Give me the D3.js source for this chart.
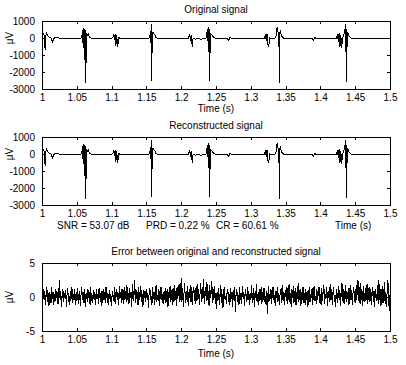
<!DOCTYPE html>
<html>
<head>
<meta charset="utf-8">
<script src="https://cdn.jsdelivr.net/npm/d3@7"></script>
<style>
  body { margin: 0; background: #fff; }
  text { font-family: Arial, "Liberation Sans", Helvetica, sans-serif; font-size: 10px; fill: #000; }
</style>
</head>
<body>
<div id="chart"></div>
<script>
// tick labels
var timeTicks = [1, 1.05, 1.1, 1.15, 1.2, 1.25, 1.3, 1.35, 1.4, 1.45, 1.5];
var signalTicks = [-3000, -2000, -1000, 0, 1000];
var errorTicks = [-5, 0, 5];

// signal: [time (s), value (uV)]
var originalSignal = [
  [1.0000, 100], [1.0024, 250], [1.0034, 60], [1.0042, -550], [1.0048, -600], [1.0057, 150],
  [1.0067, 280], [1.0091, 80], [1.0125, 20], [1.0153, -230], [1.0177, 20], [1.0211, 40],
  [1.0259, -20], [1.0350, -40], [1.0400, -20], [1.0450, -40], [1.0500, -30], [1.0546, -40],
  // beat 1
  [1.0570, 20], [1.0580, 300], [1.0584, 450], [1.0589, -300], [1.0594, 550], [1.0598, -600],
  [1.0603, 600], [1.0608, -700], [1.0613, 550], [1.0617, -1000], [1.0623, -2650], [1.0627, 450],
  [1.0632, -800], [1.0637, 300], [1.0642, -1450], [1.0646, 200], [1.0651, 150], [1.0666, 250],
  [1.0680, 50], [1.0714, -20], [1.0800, -30], [1.0850, -10], [1.0900, -40], [1.0960, -20],
  [1.1015, 0], [1.1030, 200], [1.1040, -100], [1.1052, 250], [1.1062, -450], [1.1074, 150],
  [1.1088, -550], [1.1102, 20], [1.1130, -30], [1.1200, -10], [1.1250, -40], [1.1320, -20],
  [1.1400, -30], [1.1480, -20],
  // beat 2
  [1.1542, 0], [1.1552, 150], [1.1561, 400], [1.1566, -300], [1.1571, 800], [1.1576, -2500],
  [1.1580, 450], [1.1585, -600], [1.1590, -900], [1.1595, 350], [1.1604, 250], [1.1619, 200],
  [1.1638, 30], [1.1672, -30], [1.1750, -20], [1.1800, -50], [1.1840, -10], [1.1900, -40],
  [1.2000, -30], [1.2050, -20],
  [1.2107, 0], [1.2122, 250], [1.2134, -150], [1.2146, 150], [1.2158, -500], [1.2172, 0],
  [1.2203, -80], [1.2232, -20], [1.2265, -30], [1.2285, -120], [1.2305, -20],
  // beat 3
  [1.2356, 0], [1.2366, 200], [1.2375, 500], [1.2380, -200], [1.2385, 550], [1.2390, -600],
  [1.2395, 650], [1.2399, -800], [1.2404, 500], [1.2409, -2550], [1.2414, 300], [1.2418, -900],
  [1.2423, 250], [1.2433, 200], [1.2447, 150], [1.2466, 20], [1.2500, -30], [1.2560, -20],
  [1.2620, -40], [1.2660, -20], [1.2680, -150], [1.2700, 20], [1.2730, -30], [1.2800, -20],
  [1.2900, -30], [1.3000, -20], [1.3100, -40], [1.3160, -20],
  [1.3199, 0], [1.3210, 250], [1.3222, -200], [1.3234, 250], [1.3246, -400], [1.3258, -550],
  [1.3270, 30], [1.3285, -30], [1.3320, -20],
  // beat 4
  [1.3353, 0], [1.3367, 200], [1.3376, 550], [1.3386, 650], [1.3396, 50], [1.3405, -400],
  [1.3410, -2650], [1.3415, 250], [1.3424, 400], [1.3434, 250], [1.3448, 100], [1.3467, 0],
  [1.3506, -30], [1.3600, -20], [1.3700, -40], [1.3800, -20], [1.3880, -30], [1.3900, -120],
  [1.3920, 10], [1.3950, -20], [1.4050, -30], [1.4150, -20],
  [1.4234, 0], [1.4245, 250], [1.4257, -250], [1.4269, 300], [1.4281, -500], [1.4293, 200],
  [1.4305, -600], [1.4318, 0],
  // beat 5
  [1.4334, 100], [1.4344, 350], [1.4353, 500], [1.4358, -300], [1.4363, 800], [1.4368, -800],
  [1.4373, 500], [1.4377, -2600], [1.4382, 300], [1.4387, -500], [1.4392, 350], [1.4401, 200],
  [1.4416, 100], [1.4435, 0], [1.4473, -30], [1.4600, -20], [1.4700, -40], [1.4800, -30],
  [1.4900, -20], [1.5000, -30]
];
// reconstruction differs by a few uV only, invisible at this scale
var reconstructedSignal = originalSignal.slice();

// error, one sample per ms from t = 1 s
var errorStart = 1;
var errorStep = 0.001;
var errorValue = [
  0.5, -0.8, 1.2, -0.4, 0.9, -1.1, 0.3, 1.4, -0.7, 0.6, -1.3, 0.8, 0.2, -0.9, 1.5, -0.3, 0.7, -1.2, 0.4, -0.6, 1.1, -0.2, 0.8, -1.0, 0.5,
  2.5, -0.5, 0.9, -1.4, 0.3, 1.2, -0.8, 0.6, -0.2, 1.0, -1.5, 0.4, 1.3, -0.7, 0.2, -1.1, 0.9, -0.3, 1.4, -0.9, 0.5, -0.4, 1.1, -1.2, 0.7,
  -0.6, 1.3, -1.0, 0.4, 0.9, -1.3, 0.2, 1.5, -0.5, 0.8, -0.9, 1.1, -1.4, 0.3, 0.6, -0.8, 1.2, -0.2, 0.7, -1.1, 1.4, -0.6, 0.3, -0.9, 1.0,
  -0.4, 0.8, -1.2, 1.1, -0.3, 0.5, -1.0, 1.3, 0.2, -0.7, 0.9, -1.3, 0.4, 1.2, -0.5, 0.7, -0.9, 1.5, -0.2, 0.6, -1.1, 0.3, 1.0, -0.8, 0.4,
  -1.3, 0.9, 0.3, -0.6, 1.4, -1.0, 0.5, 1.1, -0.4, 0.8, -1.2, 1.6, -0.3, 0.7, -0.9, 1.2, 0.1, -1.1, 1.5, -0.5, 0.9, -0.7, 1.8, -0.4, 0.6,
  -1.0, 1.3, -0.2, 0.8, -1.4, 1.9, -0.6, 0.4, 2.5, -0.9, 1.1, -0.3, 0.7, -1.2, 1.4, -0.5, 0.2, 1.6, -0.8, 0.5, -1.5, 1.0, -0.2, 0.9, -0.7,
  1.2, -0.4, 0.6, -1.6, 0.9, 1.3, -0.5, 0.2, -1.1, 1.4, -0.3, 0.8, -1.2, 1.0, 1.7, -0.7, 0.3, -0.6, 1.2, -1.3, 0.6, 1.5, -0.4, 0.4, -1.0,
  0.8, -0.5, 1.3, -0.9, 0.4, 1.1, -1.4, 0.7, -0.2, 1.6, -0.8, 0.3, 1.2, -1.1, 0.5, 1.8, -0.6, 0.9, -1.3, 1.4, -0.3, 0.6, 1.9, -0.7, 0.2,
  2.8, -0.7, 1.3, -1.5, 0.6, 2.1, -0.9, 0.9, -0.4, 1.6, -1.3, 0.5, 1.2, -0.8, 1.7, -0.2, -1.1, 1.0, 1.5, -0.6, 1.3, -1.0, 0.7, 1.9, -0.5,
  1.1, -1.2, 0.4, 2.0, -0.8, 1.4, -0.3, 2.6, -1.0, 0.7, 1.5, -0.6, 2.2, -0.4, 0.9, -1.3, 1.8, -0.2, 0.6, 2.3, -0.9, 1.2, -0.5, 1.6, -1.1,
  0.6, -1.8, 0.8, -0.5, 1.3, -1.2, 0.4, 1.7, -0.9, 0.5, -1.6, 1.0, 1.4, -0.4, 0.2, -1.0, 0.8, 1.2, -0.7, 0.4, -1.1, 1.3, -0.3, 0.7, -1.4,
  1.0, -0.6, 1.5, -2.2, 0.9, 1.1, -0.7, 0.3, -1.2, 1.4, -0.4, 0.6, -1.0, 1.6, -0.3, 0.8, -1.3, 1.2, 0.2, -0.8, 1.4, -0.5, 0.9, -1.1, 0.6,
  -0.5, 1.7, -0.9, 0.4, 1.3, -1.4, 0.6, -0.2, 1.9, -0.8, 0.5, -1.1, 1.2, -0.6, 0.3, 1.5, -1.0, 0.8, -0.4, 1.3, -0.7, 0.2, -1.2, 0.9, -2.5,
  1.6, -0.8, 0.5, -0.3, 1.1, -1.0, 0.7, 1.5, -0.5, 0.3, -1.3, 0.9, -0.1, 1.4, -0.7, 0.6, -1.1, 0.4, 1.2, -0.9, 1.8, -0.4, 0.8, -1.2, 0.5,
  1.0, -0.6, 1.4, -1.0, 0.3, 1.9, -0.8, 0.6, -1.4, 1.1, -0.2, 1.6, -0.9, 0.4, 1.3, -1.2, 0.7, -0.3, 2.0, -0.7, 0.5, 1.2, -1.3, 0.8, -0.4,
  1.5, -0.9, 0.6, -1.1, 1.2, -0.4, 0.9, -1.5, 0.3, 1.4, -0.8, 0.5, -0.2, 1.3, -1.2, 0.8, 1.6, -0.6, 0.2, -1.0, 1.1, -0.5, 0.7, 1.4, -0.9,
  0.4, -1.2, 1.3, -0.6, 0.8, 1.7, -1.0, 0.5, -0.3, 1.5, -1.3, 0.9, 0.2, -0.8, 1.9, -0.5, 1.1, -1.1, 0.6, 1.4, -0.7, 0.3, -1.4, 1.2, 0.5,
  -0.9, 1.6, -0.4, 1.0, -1.3, 0.7, 2.0, -0.6, 1.2, -1.0, 0.4, 1.7, -0.8, 0.9, -0.3, 1.3, -1.2, 0.6, 1.8, -0.5, 1.0, -1.1, 0.8, 1.5, -0.7,
  1.2, -0.9, 1.7, 0.3, 2.5, -0.6, 1.4, -1.0, 2.0, -0.4, 0.9, -1.3, 1.6, 0.2, -0.8, 1.3, -0.5, 1.9, -1.1, 0.7, 1.4, -0.7, 1.1, -1.2, 0.6,
  1.5, -0.8, 0.9, -1.4, 1.2, 0.3, -0.6, 1.8, -1.0, 2.5, -0.5, 1.1, -1.3, 0.7, 1.6, -0.9, 0.4, 2.2, -1.1, 0.8, -1.5, 1.3, 2.5, -0.4, -2.0,
  0.3
];

var attrs = {
  svgWidth: 406,
  svgHeight: 365,
  left: 42,
  right: 390,
  panelHeight: 68,
  tickLen: 3,
  container: '#chart'
};

var panels = [
  { top: 21, title: 'Original signal', domain: [-3000, 1000], ticks: signalTicks,
    points: originalSignal },
  { top: 137, title: 'Reconstructed signal', domain: [-3000, 1000], ticks: signalTicks,
    points: reconstructedSignal },
  { top: 263, title: 'Error between original and reconstructed signal', domain: [-5, 5], ticks: errorTicks,
    points: errorValue.map(function (d, i) { return [errorStart + i * errorStep, d]; }) }
];

var svg = d3.select(attrs.container).append('svg')
  .attr('width', attrs.svgWidth)
  .attr('height', attrs.svgHeight);

var x = d3.scaleLinear().domain([1, 1.5]).range([attrs.left, attrs.right]);
var fmtTime = function (d) { return String(+d.toFixed(2)); };

panels.forEach(drawPanel);

function drawPanel(p, k) {
  var bottom = p.top + attrs.panelHeight;
  var y = d3.scaleLinear().domain(p.domain).range([bottom, p.top]);
  var g = svg.append('g').attr('class', 'panel-' + k);

  // signal
  var line = d3.line()
    .x(function (d) { return x(d[0]); })
    .y(function (d) { return y(d[1]); });
  g.append('path')
    .datum(p.points)
    .attr('d', line)
    .attr('fill', 'none')
    .attr('stroke', '#000')
    .attr('stroke-width', 1)
    .attr('shape-rendering', 'crispEdges');

  // axes, ticks pointing inside on all four sides
  var axes = [
    { a: d3.axisBottom(x).tickValues(timeTicks).tickFormat(fmtTime).tickPadding(5), t: 'translate(0,' + bottom + ')' },
    { a: d3.axisTop(x).tickValues(timeTicks).tickFormat(''), t: 'translate(0,' + p.top + ')' },
    { a: d3.axisLeft(y).tickValues(p.ticks).tickFormat(function (d) { return String(d); }).tickPadding(7), t: 'translate(' + attrs.left + ',0)' },
    { a: d3.axisRight(y).tickValues(p.ticks).tickFormat(''), t: 'translate(' + attrs.right + ',0)' }
  ];
  axes.forEach(function (ax) {
    var ag = g.append('g')
      .attr('transform', ax.t)
      .call(ax.a.tickSizeInner(-attrs.tickLen).tickSizeOuter(0));
    ag.select('.domain').remove();
    ag.selectAll('line').attr('stroke', '#000').attr('shape-rendering', 'crispEdges');
  });

  g.append('rect')
    .attr('x', attrs.left + 0.5)
    .attr('y', p.top + 0.5)
    .attr('width', attrs.right - attrs.left)
    .attr('height', attrs.panelHeight)
    .attr('fill', 'none')
    .attr('stroke', '#000')
    .attr('shape-rendering', 'crispEdges');

  // title
  g.append('text')
    .attr('x', (attrs.left + attrs.right) / 2)
    .attr('y', p.top - 8)
    .attr('text-anchor', 'middle')
    .text(p.title);

  // y label next to the zero line
  g.append('text')
    .attr('transform', 'translate(13,' + y(0) + ') rotate(-90)')
    .attr('text-anchor', 'middle')
    .text('\u03bcV');

  // x label
  if (k === 1) {
    var parts = [
      { s: 'SNR = 53.07 dB', x: 57 },
      { s: 'PRD = 0.22 %', x: 146 },
      { s: 'CR = 60.61 %', x: 216 },
      { s: 'Time (s)', x: 335 }
    ];
    g.selectAll('.xlabel-part')
      .data(parts)
      .enter()
      .append('text')
      .attr('class', 'xlabel-part')
      .attr('x', function (d) { return d.x; })
      .attr('y', bottom + 24)
      .text(function (d) { return d.s; });
  } else {
    g.append('text')
      .attr('x', (attrs.left + attrs.right) / 2)
      .attr('y', bottom + (k === 2 ? 26 : 23))
      .attr('text-anchor', 'middle')
      .text('Time (s)');
  }
}
</script>
</body>
</html>
